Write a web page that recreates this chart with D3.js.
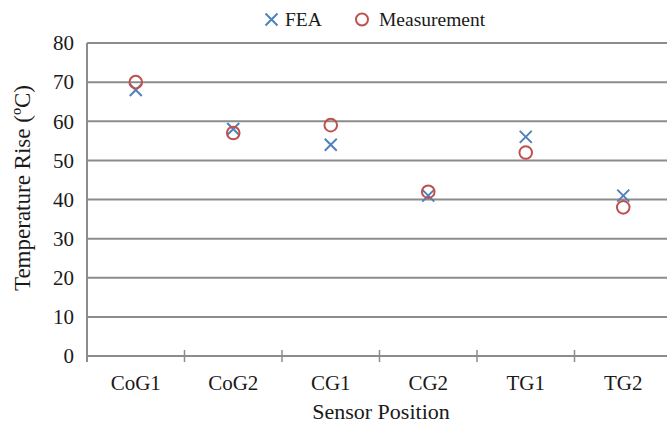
<!DOCTYPE html>
<html>
<head>
<meta charset="utf-8">
<script src="https://cdn.jsdelivr.net/npm/d3@7"></script>
<style>
  body { margin: 0; background: #fff; }
  text { font-family: "Liberation Serif", "Times New Roman", serif; fill: #1a1a1a; }
</style>
</head>
<body>
<div id="chart"></div>
<script>
// data
var positions = ["CoG1", "CoG2", "CG1", "CG2", "TG1", "TG2"];
var feaValues = [68, 58, 54, 41, 56, 41];
var measuredValues = [70, 57, 59, 42, 52, 38];
var yTicks = [0, 10, 20, 30, 40, 50, 60, 70, 80];

var width = 667, height = 425;
var margin = {top: 43, left: 87, bottom: 69};
var plotRight = 672; // plot runs slightly past the picture edge

var svg = d3.select("#chart").append("svg")
  .attr("width", width)
  .attr("height", height);

var x = d3.scaleBand()
  .domain(positions)
  .range([margin.left, plotRight]);

var y = d3.scaleLinear()
  .domain([0, 80])
  .range([height - margin.bottom, margin.top]);

var gridColor = "#8c8c8c";

// horizontal gridlines
svg.append("g")
  .selectAll("line")
  .data(yTicks)
  .enter().append("line")
  .attr("x1", margin.left)
  .attr("x2", plotRight)
  .attr("y1", function(d) { return y(d); })
  .attr("y2", function(d) { return y(d); })
  .style("stroke", gridColor)
  .style("stroke-width", 2);

// y axis line and labels
svg.append("line")
  .attr("x1", margin.left).attr("x2", margin.left)
  .attr("y1", y(80)).attr("y2", y(0) + 6)
  .style("stroke", gridColor)
  .style("stroke-width", 2);

svg.append("g")
  .selectAll("text")
  .data(yTicks)
  .enter().append("text")
  .attr("x", margin.left - 13)
  .attr("y", function(d) { return y(d); })
  .attr("dy", "0.35em")
  .attr("text-anchor", "end")
  .style("font-size", "21px")
  .text(function(d) { return d; });

// x tick marks between categories
svg.append("g")
  .selectAll("line")
  .data(positions.slice(1))
  .enter().append("line")
  .attr("x1", function(d) { return x(d); })
  .attr("x2", function(d) { return x(d); })
  .attr("y1", y(0) - 6)
  .attr("y2", y(0) + 6)
  .style("stroke", gridColor)
  .style("stroke-width", 1.5);

svg.append("g")
  .selectAll("text")
  .data(positions)
  .enter().append("text")
  .attr("x", function(d) { return x(d) + x.bandwidth() / 2; })
  .attr("y", 390)
  .attr("text-anchor", "middle")
  .style("font-size", "21px")
  .text(function(d) { return d; });

// axis titles
svg.append("text")
  .attr("x", 381)
  .attr("y", 419)
  .attr("text-anchor", "middle")
  .style("font-size", "22px")
  .text("Sensor Position");

svg.append("text")
  .attr("transform", "translate(30,188) rotate(-90)")
  .attr("text-anchor", "middle")
  .style("font-size", "23px")
  .text("Temperature Rise (ºC)");

// markers
var feaColor = "#4f81bd", measColor = "#c0504d";
var s = 6;

function cross(g, cx, cy, color) {
  g.append("path")
    .attr("d", "M" + (cx - s) + "," + (cy - s) + "L" + (cx + s) + "," + (cy + s) +
               "M" + (cx - s) + "," + (cy + s) + "L" + (cx + s) + "," + (cy - s))
    .style("stroke", color)
    .style("stroke-width", 2)
    .style("fill", "none");
}

var marks = svg.append("g");

positions.forEach(function(p, i) {
  cross(marks, x(p) + x.bandwidth() / 2, y(feaValues[i]), feaColor);
});

marks.selectAll("circle")
  .data(measuredValues)
  .enter().append("circle")
  .attr("cx", function(d, i) { return x(positions[i]) + x.bandwidth() / 2; })
  .attr("cy", function(d) { return y(d); })
  .attr("r", 6.3)
  .style("fill", "none")
  .style("stroke", measColor)
  .style("stroke-width", 2);

// legend
var legend = svg.append("g");
cross(legend, 271.5, 19.5, feaColor);
legend.append("text")
  .attr("x", 285).attr("y", 19.5).attr("dy", "0.35em")
  .style("font-size", "19.5px")
  .text("FEA");
legend.append("circle")
  .attr("cx", 362).attr("cy", 19.5).attr("r", 6)
  .style("fill", "none")
  .style("stroke", measColor)
  .style("stroke-width", 2);
legend.append("text")
  .attr("x", 379).attr("y", 19.5).attr("dy", "0.35em")
  .style("font-size", "19.5px")
  .text("Measurement");
</script>
</body>
</html>
